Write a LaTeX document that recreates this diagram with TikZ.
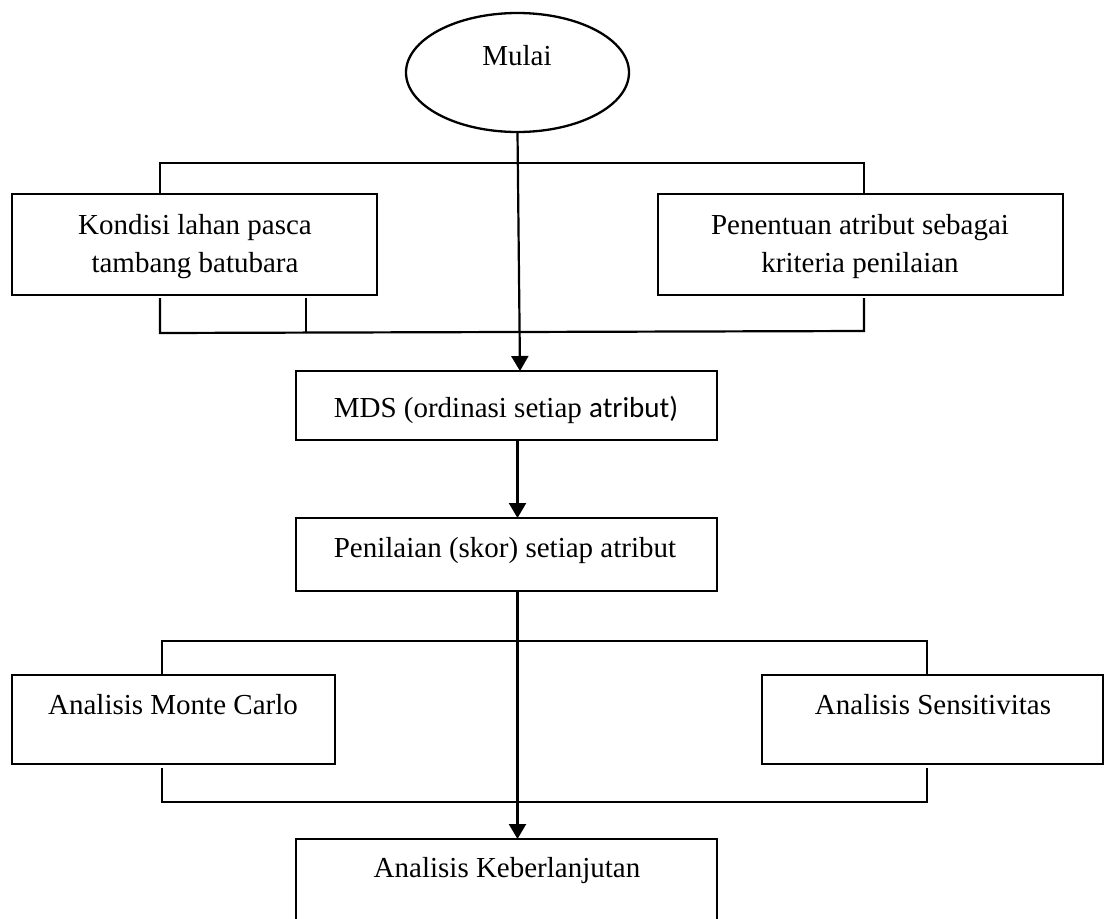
\documentclass[tikz,border=0pt]{standalone}
\usepackage{fontspec}
\setmainfont{Liberation Serif}
\newfontfamily\calfont{Carlito}
\usetikzlibrary{shapes.geometric,arrows.meta}
\begin{document}
\begin{tikzpicture}[x=1pt,y=-1pt,
  box/.style={draw, rectangle, inner sep=0pt, outer sep=0pt, line width=2.3pt},
  oval/.style={draw, ellipse, inner sep=0pt, outer sep=0pt, line width=2.3pt},
  txt/.style={font=\fontsize{29}{38}\selectfont, inner sep=0pt, outer sep=0pt},
  conn/.style={line width=2.2pt},
  arr/.style={conn, -{Triangle[width=17pt,length=15pt]}}]
\useasboundingbox (0,0) rectangle (1104,919);
\clip (0,0) rectangle (1104,919);

% shapes
\node[oval, minimum width=223pt, minimum height=119pt] (mulai) at (517.5,72.5) {};
\node[box, minimum width=365pt, minimum height=101pt] (kondisi) at (194.5,244.5) {};
\node[box, minimum width=405pt, minimum height=101pt] (penentuan) at (860.5,244.5) {};
\node[box, minimum width=421pt, minimum height=69pt] (mds) at (506.5,405.5) {};
\node[box, minimum width=421pt, minimum height=73pt] (penilaian) at (506.5,554.5) {};
\node[box, minimum width=323pt, minimum height=89pt] (monte) at (173.5,719.5) {};
\node[box, minimum width=341pt, minimum height=89pt] (sensi) at (932.5,719.5) {};
\node[box, minimum width=421pt, minimum height=91pt] (keber) at (506.5,884.5) {};

% texts
\node[txt, anchor=base] (tmulai) at (517,65) {Mulai};
\node[txt, align=center] (tkondisi) at (195,247) {Kondisi lahan pasca\\tambang batubara};
\node[txt, align=center] (tpenentuan) at (860,247) {Penentuan atribut sebagai\\kriteria penilaian};
\node[txt, anchor=base] (tmds) at (506,417) {MDS (ordinasi setiap {\calfont atribut)}};
\node[txt, anchor=base] (tpenilaian) at (505,557) {Penilaian (skor) setiap atribut};
\node[txt, anchor=base] (tmonte) at (173,714) {Analisis Monte Carlo};
\node[txt, anchor=base] (tsensi) at (933,714) {Analisis Sensitivitas};
\node[txt, anchor=base] (tkeber) at (507,877) {Analisis Keberlanjutan};

% bracket coordinates
\coordinate (tl) at (160,163);
\coordinate (tr) at (864,163);
\coordinate (bl) at (160,333);
\coordinate (br) at (864,331);
\coordinate (bx) at (306,333);
\coordinate (ml) at (162,641);
\coordinate (mr) at (927,641);
\coordinate (nl) at (162,802);
\coordinate (nr) at (927,802);
\coordinate (mdsin) at (520,371);

% upper bracket
\draw[conn] (kondisi.north -| tl) -- (tl) -- (tr) -- (penentuan.north -| tr);
\draw[conn] (kondisi.south -| bl) ++(0,3) -- (bl) -- (br) -- ++(0,-33);
\draw[conn] (kondisi.south -| bx) ++(0,3) -- (bx);

% lower bracket
\draw[conn] (monte.north -| ml) -- (ml) -- (mr) -- (sensi.north -| mr);
\draw[conn] (monte.south -| nl) ++(0,4) -- (nl) -- (nr) -- ++(0,-34);

% arrows
\draw[arr] (mulai.south) -- (mdsin);
\draw[arr] (mds.south -| mulai.south) -- (penilaian.north -| mulai.south);
\draw[arr] (penilaian.south -| mulai.south) -- (keber.north -| mulai.south);
\end{tikzpicture}
\end{document}
